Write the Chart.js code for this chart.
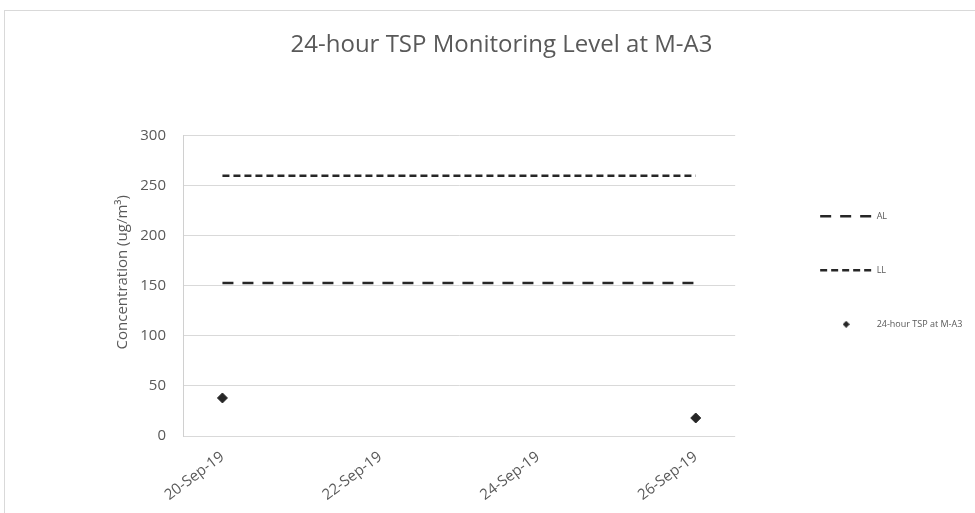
<!DOCTYPE html>
<html>
<head>
<meta charset="utf-8">
<script src="https://cdn.jsdelivr.net/npm/chart.js@4/dist/chart.umd.min.js"></script>
<style>
  html, body { margin: 0; padding: 0; background: #fff; overflow: hidden; }
  #frame {
    position: absolute; left: 4px; top: 10px;
    width: 993px; height: 503px;
    border-left: 1px solid #d9d9d9; border-top: 1px solid #d9d9d9;
  }
</style>
</head>
<body>
<div id="frame"><canvas id="tsp"></canvas></div>
<script>
// sampling dates on the category axis (one slot per day)
const DATES = ['20-Sep-19', '21-Sep-19', '22-Sep-19', '23-Sep-19', '24-Sep-19', '25-Sep-19', '26-Sep-19'];
// action / limit levels, given at the two monitoring dates only
const AL = [153, null, null, null, null, null, 153];
const LL = [260, null, null, null, null, null, 260];
// measured 24-hour TSP (ug/m3)
const TSP = [38, null, null, null, null, null, 18];
const Y_TICKS = { min: 0, max: 300, step: 50 };

const INK = '#595959';
const LINE = '#262626';
const FONT = 'Open Sans';
const SIDE_PAD = 86;

// small diamond used as the legend marker for the TSP series
function diamondIcon(size, color) {
  const c = document.createElement('canvas');
  c.width = c.height = size;
  const g = c.getContext('2d');
  g.fillStyle = color;
  g.beginPath();
  g.moveTo(size / 2, 0); g.lineTo(size, size / 2);
  g.lineTo(size / 2, size); g.lineTo(0, size / 2);
  g.closePath(); g.fill();
  return c;
}
const legendDiamond = diamondIcon(7, LINE);

// the legend box is narrow (layout caps side boxes), let its labels run past it
const legendOverflow = {
  id: 'legendOverflow',
  afterLayout(chart) {
    if (chart.legend) chart.legend.right = chart.width;
  }
};

new Chart(document.getElementById('tsp'), {
  type: 'line',
  data: {
    labels: DATES,
    datasets: [
      { label: 'AL', data: AL, spanGaps: true, borderColor: LINE, backgroundColor: LINE,
        borderWidth: 2.5, borderDash: [11, 9], pointRadius: 0, pointStyle: 'line' },
      { label: 'LL', data: LL, spanGaps: true, borderColor: LINE, backgroundColor: LINE,
        borderWidth: 2.5, borderDash: [7, 4], pointRadius: 0, pointStyle: 'line' },
      { label: '24-hour TSP at M-A3', data: TSP, showLine: false, borderColor: LINE, backgroundColor: LINE,
        pointStyle: 'rectRot', pointRadius: 5, pointHoverRadius: 5, borderWidth: 1 }
    ]
  },
  plugins: [legendOverflow],
  options: {
    responsive: true,
    maintainAspectRatio: false,
    animation: false,
    layout: { padding: { left: SIDE_PAD, right: SIDE_PAD, top: 0, bottom: 0 } },
    plugins: {
      title: {
        display: true, text: '24-hour TSP Monitoring Level at M-A3', color: INK,
        font: { family: FONT, size: 24, weight: 'normal' }, padding: { top: 20, bottom: 76 }
      },
      legend: {
        position: 'right', align: 'start', fullSize: false,
        title: { display: true, text: ' ', font: { size: 10 }, padding: { top: 10, bottom: 9 } },
        labels: {
          usePointStyle: true, pointStyleWidth: 52, padding: 45, color: INK,
          font: { family: FONT, size: 9 },
          generateLabels(chart) {
            const items = Chart.defaults.plugins.legend.labels.generateLabels(chart);
            items.forEach((it, i) => {
              const ds = chart.data.datasets[i];
              if (ds.borderDash) { it.lineDash = ds.borderDash; it.lineWidth = ds.borderWidth; }
            });
            items[2].pointStyle = legendDiamond;
            return items;
          }
        }
      },
      tooltip: { enabled: false }
    },
    scales: {
      x: {
        offset: true,
        grid: { display: false }, border: { display: false },
        ticks: {
          color: INK, font: { family: FONT, size: 15 }, autoSkip: false,
          minRotation: 37, maxRotation: 37, padding: 4,
          callback: (v, i) => (i % 2 === 0 ? DATES[i] : '')
        },
        afterFit: s => { s.height = 78; }
      },
      y: {
        min: Y_TICKS.min, max: Y_TICKS.max,
        grid: { color: '#d9d9d9', drawTicks: false },
        border: { display: true, color: '#d0d0d0' },
        ticks: { stepSize: Y_TICKS.step, color: INK, font: { family: FONT, size: 15 }, padding: 17 },
        title: { display: true, text: '       Concentration (ug/m³)', color: INK,
                 font: { family: FONT, size: 15 }, padding: { top: 23, bottom: 0 } },
        afterFit: s => { s.width = 178 - SIDE_PAD; }
      },
      // empty right-hand axis: only keeps the gap between plot and legend
      gap: {
        position: 'right', display: true,
        grid: { display: false }, border: { display: false }, ticks: { display: false },
        afterFit: s => { s.width = 40; }
      }
    }
  }
});
</script>
</body>
</html>
